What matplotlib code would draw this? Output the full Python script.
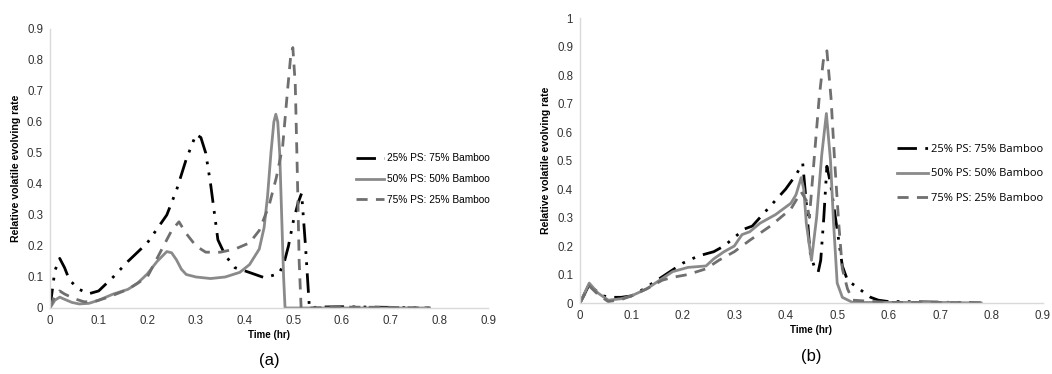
import matplotlib.pyplot as plt

# Panel (a) data: time (hr) vs relative volatile evolving rate
ta_25 = [0, 0.005, 0.01, 0.02, 0.03, 0.04, 0.06, 0.08, 0.1, 0.13, 0.16, 0.2, 0.24, 0.26, 0.28, 0.3,
         0.31, 0.32, 0.33, 0.345, 0.36, 0.38, 0.4, 0.44, 0.47, 0.48, 0.49, 0.5, 0.51, 0.517, 0.525,
         0.533, 0.55, 0.6, 0.7, 0.78]
va_25 = [0, 0.06, 0.12, 0.16, 0.13, 0.09, 0.06, 0.046, 0.055, 0.1, 0.15, 0.21, 0.3, 0.38, 0.48, 0.56,
         0.55, 0.5, 0.4, 0.22, 0.17, 0.13, 0.12, 0.098, 0.11, 0.14, 0.2, 0.28, 0.34, 0.37, 0.2,
         0.0, 0.003, 0.004, 0.002, 0]

ta_50 = [0, 0.01, 0.02, 0.03, 0.045, 0.06, 0.08, 0.1, 0.13, 0.16, 0.18, 0.2, 0.22, 0.24, 0.25, 0.26,
         0.27, 0.28, 0.3, 0.33, 0.36, 0.39, 0.41, 0.43, 0.44, 0.447, 0.454, 0.46, 0.464, 0.468, 0.472,
         0.476, 0.48, 0.483, 0.5, 0.6, 0.7, 0.78]
va_50 = [0, 0.025, 0.035, 0.028, 0.018, 0.013, 0.015, 0.025, 0.045, 0.06, 0.08, 0.11, 0.15, 0.182, 0.178, 0.155,
         0.125, 0.108, 0.1, 0.095, 0.1, 0.115, 0.14, 0.19, 0.26, 0.36, 0.5, 0.6, 0.625, 0.6, 0.5,
         0.3, 0.1, 0, 0, 0, 0, 0]

ta_75 = [0, 0.01, 0.02, 0.03, 0.05, 0.07, 0.09, 0.12, 0.16, 0.2, 0.23, 0.25, 0.265, 0.28, 0.3, 0.32,
         0.35, 0.38, 0.41, 0.43, 0.45, 0.465, 0.478, 0.488, 0.495, 0.499, 0.504, 0.508, 0.512, 0.516,
         0.53, 0.6, 0.7, 0.78]
va_75 = [0, 0.04, 0.055, 0.045, 0.03, 0.02, 0.02, 0.035, 0.06, 0.1, 0.19, 0.25, 0.278, 0.24, 0.2, 0.18,
         0.18, 0.19, 0.21, 0.25, 0.33, 0.42, 0.52, 0.7, 0.82, 0.84, 0.72, 0.45, 0.15, 0,
         0, 0.003, 0.002, 0]

# Panel (b) data
tb_25 = [0, 0.018, 0.03, 0.045, 0.06, 0.08, 0.1, 0.12, 0.15, 0.175, 0.2, 0.23, 0.26, 0.28, 0.3, 0.32,
         0.335, 0.35, 0.38, 0.4, 0.42, 0.433, 0.44, 0.447, 0.455, 0.463, 0.468, 0.474, 0.48, 0.487,
         0.495, 0.503, 0.51, 0.52, 0.535, 0.55, 0.565, 0.58, 0.6, 0.62, 0.7, 0.78]
vb_25 = [0, 0.065, 0.045, 0.025, 0.02, 0.02, 0.025, 0.045, 0.08, 0.11, 0.14, 0.165, 0.18, 0.2, 0.23, 0.26,
         0.27, 0.3, 0.36, 0.4, 0.45, 0.49, 0.35, 0.18, 0.13, 0.108, 0.15, 0.3, 0.48, 0.42,
         0.32, 0.22, 0.13, 0.08, 0.06, 0.04, 0.02, 0.01, 0.005, 0.005, 0.003, 0]

tb_50 = [0, 0.018, 0.035, 0.055, 0.08, 0.1, 0.13, 0.155, 0.18, 0.21, 0.245, 0.26, 0.28, 0.3, 0.315, 0.33,
         0.35, 0.38, 0.41, 0.42, 0.43, 0.435, 0.44, 0.45, 0.46, 0.47, 0.479, 0.487, 0.493, 0.5,
         0.51, 0.53, 0.6, 0.7, 0.78]
vb_50 = [0, 0.07, 0.035, 0.01, 0.015, 0.025, 0.05, 0.08, 0.11, 0.125, 0.13, 0.155, 0.18, 0.2, 0.24, 0.25,
         0.28, 0.31, 0.35, 0.38, 0.44, 0.4, 0.28, 0.15, 0.3, 0.52, 0.665, 0.5, 0.28, 0.07,
         0.02, 0.002, 0.002, 0.002, 0]

tb_75 = [0, 0.018, 0.035, 0.055, 0.08, 0.1, 0.13, 0.16, 0.18, 0.21, 0.245, 0.27, 0.3, 0.33, 0.37, 0.41,
         0.43, 0.44, 0.446, 0.455, 0.465, 0.473, 0.48, 0.488, 0.495, 0.503, 0.51, 0.52, 0.53, 0.6,
         0.7, 0.78]
vb_75 = [0, 0.06, 0.03, 0.005, 0.012, 0.025, 0.05, 0.08, 0.09, 0.1, 0.12, 0.15, 0.18, 0.22, 0.27, 0.33,
         0.39, 0.36, 0.3, 0.5, 0.72, 0.85, 0.885, 0.72, 0.5, 0.28, 0.12, 0.05, 0.01, 0.002,
         0.002, 0]

etiquetas = ["25% PS: 75% Bamboo", "50% PS: 50% Bamboo", "75% PS: 25% Bamboo"]
xticks = [0, 0.1, 0.2, 0.3, 0.4, 0.5, 0.6, 0.7, 0.8, 0.9]

plt.rcParams['font.family'] = ['Liberation Sans', 'DejaVu Sans']

fig = plt.figure(figsize=(10.52, 3.74), dpi=100)
ax_a = fig.add_axes([0.0475, 0.1765, 0.4164, 0.746])
ax_b = fig.add_axes([0.5513, 0.1898, 0.4401, 0.762])

estilos = [
    dict(color='black', lw=2.0, dashes=(7, 3, 1, 3, 1, 3)),
    dict(color='#8a8a8a', lw=2.0, ls='-'),
    dict(color='#6f6f6f', lw=2.0, dashes=(4, 3)),
]

paneles = [
    (ax_a, [(ta_25, va_25), (ta_50, va_50), (ta_75, va_75)], 0.9,
     [0, 0.1, 0.2, 0.3, 0.4, 0.5, 0.6, 0.7, 0.8, 0.9], (0.698, 0.462), 'Liberation Sans', 7.3, 1.05, '(a)'),
    (ax_b, [(tb_25, vb_25), (tb_50, vb_50), (tb_75, vb_75)], 1.0,
     [0, 0.1, 0.2, 0.3, 0.4, 0.5, 0.6, 0.7, 0.8, 0.9, 1], (0.684, 0.453), 'Open Sans', 8.0, 1.2, '(b)'),
]

for ax, series, ymax, yticks, pos_leg, fuente_leg, tam_leg, esp_leg, letra in paneles:
    for (t, v), est, lab in zip(series, estilos, etiquetas):
        ax.plot(t, v, label=lab, **est)
    ax.set_xlim(0, 0.9)
    ax.set_ylim(0, ymax)
    ax.set_xticks(xticks)
    ax.set_xticklabels([f"{x:g}" for x in xticks])
    ax.set_yticks(yticks)
    ax.set_yticklabels([f"{y:g}" for y in yticks])
    ax.tick_params(length=0, labelsize=8.3, colors='#333333', pad=5)
    for s in ['top', 'right']:
        ax.spines[s].set_visible(False)
    for s in ['left', 'bottom']:
        ax.spines[s].set_color('#d9d9d9')
        ax.spines[s].set_linewidth(1.0)
    ax.set_xlabel("Time (hr)", fontsize=7, fontweight='bold', labelpad=2)
    ax.set_ylabel("Relative volatile evolving rate", fontsize=7.6, fontweight='bold', labelpad=4)
    ax.legend(loc='center left', bbox_to_anchor=pos_leg, frameon=False, borderpad=0,
              borderaxespad=0, handlelength=2.8, handletextpad=0.3, labelspacing=esp_leg,
              prop={'family': fuente_leg, 'size': tam_leg})
    ax.text(0.5, -0.16, letra, transform=ax.transAxes, ha='center', va='top', fontsize=12)

fig.savefig("out.png", dpi=100)
